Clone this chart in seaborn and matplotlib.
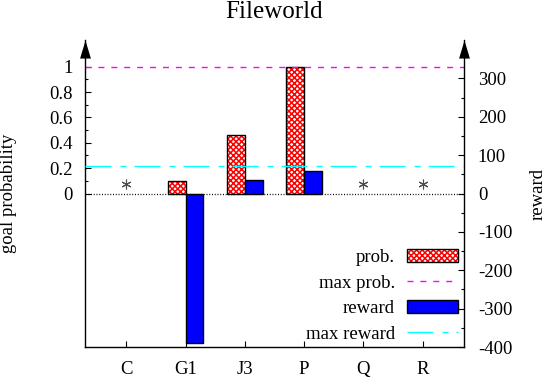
import numpy as np
import pandas as pd
import matplotlib as mpl
import matplotlib.pyplot as plt
import matplotlib.transforms as mtrans
from matplotlib.patches import Patch
from matplotlib.lines import Line2D
from matplotlib.path import Path
import seaborn as sns

# data
categories = ["C", "G1", "J3", "P", "Q", "R"]
goal_prob = [0.0, 0.10, 0.46, 1.0, 0.0, 0.0]
reward = [0, -389, 34, 58, 0, 0]
max_prob = 1.0
max_reward = 72

prob_ticks = [0, 0.2, 0.4, 0.6, 0.8, 1.0]
prob_labels = ["0", "0.2", "0.4", "0.6", "0.8", "1"]
reward_ticks = [-400, -300, -200, -100, 0, 100, 200, 300]
reward_labels = ["-400", "-300", "-200", "-100", "0", "100", "200", "300"]

sns.set_theme(style="white", rc={"axes.edgecolor": "black", "text.color": "black",
                                 "xtick.color": "black", "ytick.color": "black",
                                 "axes.labelcolor": "black"})
plt.rcParams["font.family"] = ["Liberation Serif", "DejaVu Serif"]
plt.rcParams["axes.unicode_minus"] = False
plt.rcParams["hatch.linewidth"] = 1.1

FS = 13.5
HATCH = "xxxxxx"

df = pd.DataFrame({"cat": categories, "prob": goal_prob, "reward": reward})
prob_df = df[df["prob"] != 0].assign(series="prob.")
rew_df = df[df["reward"] != 0].assign(series="reward")
hue_order = ["prob.", "reward"]

fig = plt.figure(figsize=(5.49, 3.77), dpi=100)
ax = fig.add_axes([85 / 549, 30 / 377, 379 / 549, 307 / 377])
ax2 = ax.twinx()

bar_kw = dict(x="cat", hue="series", hue_order=hue_order, order=categories,
              width=0.6, dodge=True, saturation=1, errorbar=None, legend=False)

# goal probability bars: red cross hatch, then black outline
sns.barplot(data=prob_df, y="prob", palette={"prob.": "white", "reward": "white"},
            ax=ax, **bar_kw)
for p in ax.patches:
    p.set_hatch(HATCH)
    p.set_edgecolor("red")
    p.set_linewidth(0)
sns.barplot(data=prob_df, y="prob", palette={"prob.": "black", "reward": "black"},
            fill=False, linewidth=1, ax=ax, **bar_kw)

# reward bars
sns.barplot(data=rew_df, y="reward", palette={"prob.": "blue", "reward": "blue"},
            edgecolor="black", linewidth=1, ax=ax2, **bar_kw)

# reference lines
maxprob_style = dict(color="magenta", lw=1, ls=(0, (4.3, 5)))
maxrew_style = dict(color="cyan", lw=1, ls=(0, (18.7, 6.5, 4.3, 5.8)))
ax.axhline(max_prob, **maxprob_style)
ax2.axhline(max_reward, **maxrew_style)
ax.axhline(0, color="black", lw=0.9, ls=(0, (0.8, 1.4)))

# asterisks where there is nothing to show
star_x = [i for i, (p, r) in enumerate(zip(goal_prob, reward)) if p == 0 and r == 0]
star_tr = ax.transData + mtrans.ScaledTranslation(0, 9.5 / 100, fig.dpi_scale_trans)
ax.plot(star_x, [0] * len(star_x), ls="none", marker=(6, 2, 0), ms=7, mew=0.8,
        color="0.3", transform=star_tr)

ax.set_xlim(-0.7, 5.7)
ax.set_ylim(-1.21, 1.21)
ax2.set_ylim(-400, 400)

ax.set_yticks(prob_ticks, labels=prob_labels)
ax.set_yticks(np.arange(0.1, 1.0, 0.2), minor=True)
ax2.set_yticks(reward_ticks, labels=reward_labels)
ax2.set_yticks(np.arange(-350, 300, 100), minor=True)

ax.tick_params(axis="y", which="both", direction="in", left=True, right=False,
               labelsize=FS, pad=9, width=0.8)
ax.tick_params(axis="y", which="major", length=4)
ax.tick_params(axis="y", which="minor", length=2.5)
ax.tick_params(axis="x", direction="in", bottom=True, top=False, length=4, width=0.8,
               labelsize=FS, pad=10)
ax2.tick_params(axis="y", which="both", direction="in", right=True, left=False,
                labelsize=FS, pad=10, width=0.8)
ax2.tick_params(axis="y", which="major", length=4)
ax2.tick_params(axis="y", which="minor", length=2.5)
for lab in ax2.get_yticklabels():
    lab.set_horizontalalignment("left")

for a in (ax, ax2):
    a.spines["top"].set_visible(False)
    for s in a.spines.values():
        s.set_linewidth(1.0)
ax.spines["right"].set_visible(False)
ax2.spines["left"].set_visible(False)
ax2.spines["bottom"].set_visible(False)

ax.set_xlabel("")
ax.set_ylabel("goal probability", fontsize=FS)
ax.yaxis.set_label_coords(-0.179, 0.5)
ax2.set_ylabel("reward", fontsize=FS)
ax2.yaxis.set_label_coords(1.172, 0.5)
ax.set_title("Fileworld", fontsize=18, pad=16)

# arrow heads on top of the vertical axes
arrow = Path([(0, 0), (-0.3, -1), (0.3, -1), (0, 0)],
             [Path.MOVETO, Path.LINETO, Path.LINETO, Path.CLOSEPOLY])
for xa in (0, 1):
    ax2.plot([xa], [1], transform=ax2.transAxes, marker=arrow, ms=26,
             color="black", mew=0, clip_on=False)

# legend
handles = [
    (Patch(facecolor="white", edgecolor="red", hatch=HATCH, lw=0),
     Patch(fill=False, edgecolor="black", lw=1)),
    Line2D([], [], **maxprob_style),
    Patch(facecolor="blue", edgecolor="black", lw=1),
    Line2D([], [], **maxrew_style),
]
labels = ["prob.", "max prob.", "reward", "max reward"]
ax2.legend(handles, labels, loc="lower right", bbox_to_anchor=(1 - 6 / 379, 4 / 307),
           markerfirst=False, frameon=False, fontsize=FS, handlelength=2.72,
           handleheight=0.7, handletextpad=0.64, labelspacing=0.45,
           borderpad=0, borderaxespad=0)

fig.savefig("out.png", dpi=100)
